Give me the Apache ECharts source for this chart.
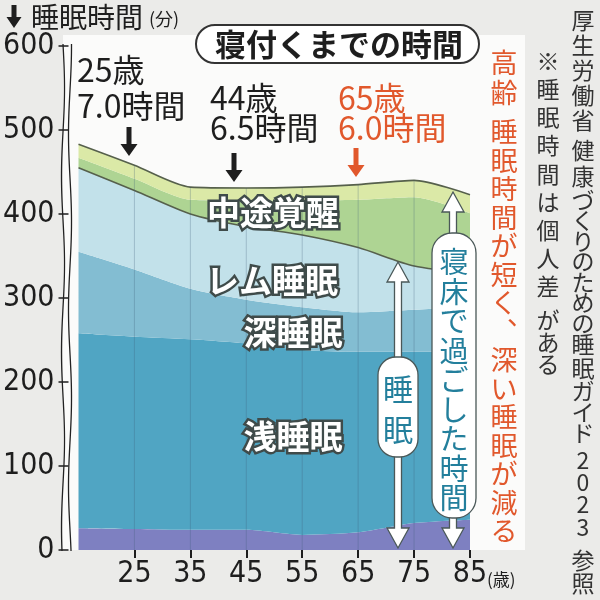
<!DOCTYPE html>
<html><head><meta charset="utf-8">
<script src="https://cdn.jsdelivr.net/npm/echarts@6/dist/echarts.min.js"></script>
<style>html,body{margin:0;padding:0;background:#ebebe9}#c{width:600px;height:600px}</style>
</head><body><div id="c"></div>
<script>
// ---- data (minutes) ----
const ages = ['15','25','35','45','55','65','75','85'];
const stage1Sleep = [26,25,24,24,18,21,32,36];        // bottom purple band
const lightSleep  = [232,229,227,222,220,215,204,200]; // 浅睡眠
const deepSleep   = [97,80,60,52,51,47,50,54];         // 深睡眠
const remSleep    = [100,94,89,87,86,77,52,40];        // レム睡眠
const wakeAfter   = [12,14,17,31,41,57,82,71];         // 中途覚醒
const sleepLatency= [16,16,15,15,16,18,20,22];         // 寝付くまでの時間
const gridAges    = ['25','35','45','55','65','75'];
const yMin = 0, yMax = 600, yStep = 100;

const JP = '"Noto Sans CJK JP", sans-serif';
const NUM = '"Liberation Sans Narrow", "DejaVu Sans Condensed", "Noto Sans CJK JP", sans-serif';

const chart = echarts.init(document.getElementById('c'), null, {renderer:'canvas'});
const totals = ages.map((a,i)=>stage1Sleep[i]+lightSleep[i]+deepSleep[i]+remSleep[i]+wakeAfter[i]+sleepLatency[i]);

function layer(name, data, color, withLine){
  return {name, type:'line', stack:'s', data, smooth:0.25, symbol:'none', silent:true,
    lineStyle: withLine ? {color:'#56604c', width:1.6} : {width:0},
    areaStyle:{color, opacity:1}, z: withLine ? 4 : 2};
}

function wavy(x0, phase){ const pts=[]; for(let y=44;y<=551;y+=3){ pts.push([x0+1.5*Math.sin((y-44)/28+phase), y]); } return pts; }
function downArrow(x, y0, y1, color, sw, hw, hh){
  return {type:'polygon', z:60, shape:{points:[[x-sw/2,y0],[x+sw/2,y0],[x+sw/2,y1-hh],[x+hw/2,y1-hh],[x,y1],[x-hw/2,y1-hh],[x-sw/2,y1-hh]]}, style:{fill:color}};
}
function dblArrow(x, yT, yB, sw, hw, hh){
  return {type:'polygon', z:60, shape:{points:[[x,yT],[x+hw/2,yT+hh],[x+sw/2,yT+hh],[x+sw/2,yB-hh],[x+hw/2,yB-hh],[x,yB],[x-hw/2,yB-hh],[x-sw/2,yB-hh],[x-sw/2,yT+hh],[x-hw/2,yT+hh]]},
    style:{fill:'#ffffff', stroke:'#4a5858', lineWidth:1.3}};
}
function vtext(str, x, yc0, pitch, st){
  return {type:'text', z:70, x, y: yc0 - pitch/2, style:Object.assign({text:Array.from(str).join('\n'), align:'center', verticalAlign:'top', lineHeight:pitch, fontFamily:JP}, st)};
}
function htext(str, x, y, st){
  return {type:'text', z:70, x, y, style:Object.assign({text:str, fontFamily:JP, verticalAlign:'middle', align:'left'}, st)};
}
function areaLabel(str, x, y){
  return {type:'text', z:70, x, y, style:{text:str, fontFamily:JP, fontSize:33, fontWeight:'bold', fill:'#ffffff', stroke:'#3f4b4a', lineWidth:5, align:'center', verticalAlign:'middle'}};
}

const black = '#1e1e1e', orange = '#e1582c', teal = '#237f9c', grey = '#333333';

const graphics = [
  {type:'rect', z:-10, shape:{x:63, y:35, width:462, height:515}, style:{fill:'#fbfbfa'}},
  {type:'polyline', z:50, shape:{points:wavy(63,0)}, style:{stroke:'#222', lineWidth:1.3, fill:null}},
  {type:'polyline', z:50, shape:{points:wavy(70,1.5)}, style:{stroke:'#222', lineWidth:1.3, fill:null}},
  downArrow(14, 5, 28, black, 5, 15, 11),
  htext('睡眠時間', 31, 17, {fontSize:28, fill:black}),
  htext('(分)', 149, 19, {fontSize:18, fill:black}),
  {type:'rect', z:60, shape:{x:196, y:25, width:283, height:38, r:19}, style:{fill:'#ffffff', stroke:'#333', lineWidth:2}},
  {type:'text', z:70, x:339, y:44, style:{text:'寝付くまでの時間', fontFamily:JP, fontSize:31, fontWeight:'bold', fill:black, align:'center', verticalAlign:'middle'}},
  htext('25歳', 77, 70, {fontSize:32, fill:black}),
  htext('7.0時間', 77, 106, {fontSize:32, fill:black}),
  downArrow(129, 127, 156, black, 5, 17, 12),
  htext('44歳', 210, 98, {fontSize:32, fill:black}),
  htext('6.5時間', 210, 128, {fontSize:32, fill:black}),
  downArrow(234, 153, 182, black, 5, 17, 12),
  htext('65歳', 338, 98, {fontSize:32, fill:orange}),
  htext('6.0時間', 338, 128, {fontSize:32, fill:orange}),
  downArrow(356, 148, 177, orange, 5, 17, 12),
  areaLabel('中途覚醒', 273, 212),
  areaLabel('レム睡眠', 272, 280),
  areaLabel('深睡眠', 293, 332),
  areaLabel('浅睡眠', 293, 436),
  dblArrow(398, 262, 548, 7, 22, 20),
  {type:'rect', z:65, shape:{x:378, y:357, width:40, height:100, r:18}, style:{fill:'#ffffff', stroke:'#4a5858', lineWidth:1.3}},
  vtext('睡眠', 398, 389, 41, {fontSize:30, fill:teal}),
  dblArrow(453, 192, 548, 7, 22, 20),
  {type:'rect', z:65, shape:{x:432, y:233, width:44, height:285, r:20}, style:{fill:'#ffffff', stroke:'#4a5858', lineWidth:1.3}},
  vtext('寝床で過ごした時間', 454, 262, 29.5, {fontSize:29, fill:teal}),
  vtext('高齢', 504, 63, 30, {fontSize:27, fill:orange}),
  vtext('睡眠時間が短く︑深い睡眠が減る', 504, 132, 28.5, {fontSize:27, fill:orange}),
  vtext('※睡眠時間は個人差', 548, 61, 28.2, {fontSize:23, fill:grey}),
  vtext('がある', 548, 320, 22, {fontSize:23, fill:grey}),
  vtext('厚生労働省', 583, 20, 25, {fontSize:23, fill:grey}),
  vtext('健康', 583, 150, 26, {fontSize:23, fill:grey}),
  vtext('づくりのための', 583, 200, 20.5, {fontSize:23, fill:grey}),
  vtext('睡眠', 583, 344, 24, {fontSize:23, fill:grey}),
  vtext('ガイド', 583, 391, 21, {fontSize:23, fill:grey}),
  vtext('2023', 583, 460, 22.3, {fontSize:23, fill:grey}),
  vtext('参照', 583, 560, 23, {fontSize:23, fill:grey}),
  htext('(歳)', 487, 580, {fontSize:17, fill:black})
];

const option = {
  animation:false,
  backgroundColor:'#ebebe9',
  grid:{left:72, right:130, top:46, bottom:50},
  xAxis:{type:'category', data:ages, boundaryGap:false,
    axisLine:{show:false},
    axisTick:{show:true, length:8, interval:(i)=>i>0, lineStyle:{color:'#1e1e1e', width:2}},
    axisLabel:{interval:0, formatter:(v)=> v==='15' ? '' : v, fontSize:30, color:'#1e1e1e', fontFamily:NUM, margin:9},
    splitLine:{show:false}},
  yAxis:{type:'value', min:yMin, max:yMax, interval:yStep, offset:10,
    axisLine:{show:false},
    axisTick:{show:true, length:10, lineStyle:{color:'#1e1e1e', width:1.5}},
    axisLabel:{fontSize:30, color:'#1e1e1e', fontFamily:NUM, margin:14},
    splitLine:{show:false}},
  series:[
    layer('stage1', stage1Sleep, '#7e80c1', false),
    layer('浅睡眠', lightSleep, '#50a5c3', false),
    layer('深睡眠', deepSleep, '#83bdd2', false),
    layer('レム睡眠', remSleep, '#c2e1ea', true),
    layer('中途覚醒', wakeAfter, '#aed493', false),
    layer('寝付くまでの時間', sleepLatency, '#dbe9a7', true),
    {type:'custom', z:5, silent:true, encode:{x:0, y:1},
      data: gridAges.map(a=>[a, totals[ages.indexOf(a)]]),
      renderItem:(params, api)=>{
        const p0 = api.coord([api.value(0), 0]);
        const p1 = api.coord([api.value(0), api.value(1)]);
        return {type:'line', shape:{x1:p0[0], y1:p0[1], x2:p1[0], y2:p1[1]}, style:{stroke:'rgba(60,90,120,0.28)', lineWidth:1}};
      }}
  ],
  graphic: graphics
};
chart.setOption(option);
</script></body></html>
